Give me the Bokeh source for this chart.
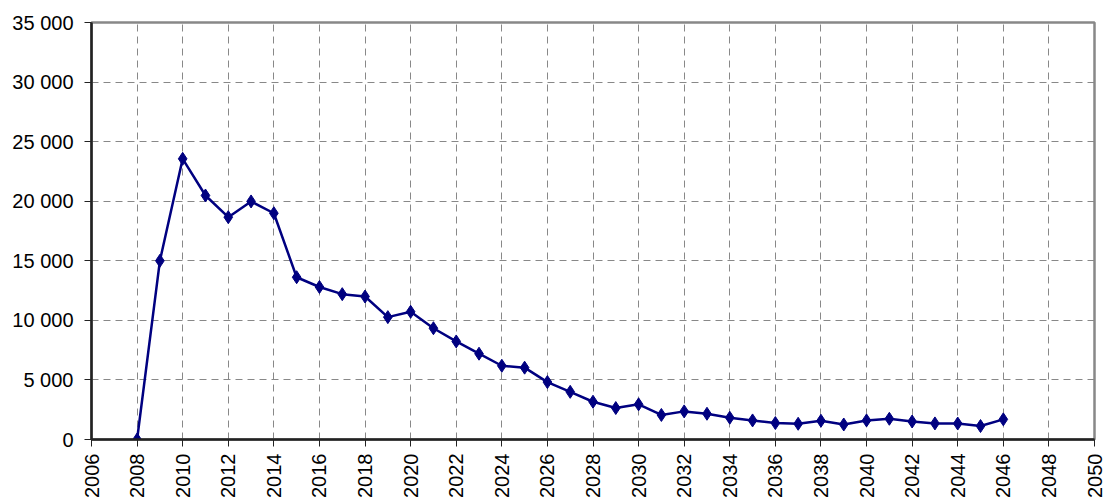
import math
from bokeh.plotting import figure
from bokeh.models import FixedTicker, Range1d
from bokeh.embed import file_html
from bokeh.resources import INLINE

years = list(range(2008, 2047))
values = [0, 15000, 23560, 20480, 18660, 19980, 18990, 13620, 12800, 12200,
          12000, 10270, 10720, 9340, 8230, 7200, 6190, 6030, 4820, 4000,
          3170, 2640, 2950, 2060, 2360, 2160, 1830, 1600, 1380, 1320,
          1570, 1260, 1600, 1740, 1510, 1350, 1340, 1130, 1690]

x_ticks = list(range(2006, 2051, 2))
y_ticks = [0, 5000, 10000, 15000, 20000, 25000, 30000, 35000]
y_tick_labels = ["0", "5 000", "10 000", "15 000", "20 000", "25 000", "30 000", "35 000"]

FONT = "Liberation Sans"
FSIZE = "20px"

p = figure(width=1104, height=501, output_backend="svg", toolbar_location=None,
           x_range=Range1d(2006, 2050), y_range=Range1d(0, 35000),
           min_border_left=91, min_border_right=10, min_border_top=22, min_border_bottom=62)

p.line(years, values, line_color="#000080", line_width=2.5)
p.scatter(years, values, marker="diamond", size=13, fill_color="#000080", line_color="#000080")

p.xaxis.ticker = FixedTicker(ticks=x_ticks)
p.yaxis.ticker = FixedTicker(ticks=y_ticks)
p.yaxis.major_label_overrides = {t: l for t, l in zip(y_ticks, y_tick_labels)}
p.xaxis.major_label_orientation = math.pi / 2

for ax in (p.xaxis, p.yaxis):
    ax.axis_line_color = "#222222"
    ax.axis_line_width = 2.5
    ax.major_tick_line_color = "#222222"
    ax.major_tick_line_width = 1
    ax.major_tick_out = 7
    ax.major_tick_in = 0
    ax.minor_tick_line_color = None
    ax.major_label_text_font = FONT
    ax.major_label_text_font_size = FSIZE
    ax.major_label_text_color = "#000000"
p.yaxis.major_label_standoff = 11
p.xaxis.major_label_standoff = 7

p.grid.grid_line_color = "#888888"
p.grid.grid_line_dash = "7 5"
p.grid.grid_line_width = 1

p.outline_line_color = "#888888"
p.outline_line_width = 2.5
p.background_fill_color = "white"
p.border_fill_color = "white"

open("out.html", "w").write(file_html(p, INLINE))
